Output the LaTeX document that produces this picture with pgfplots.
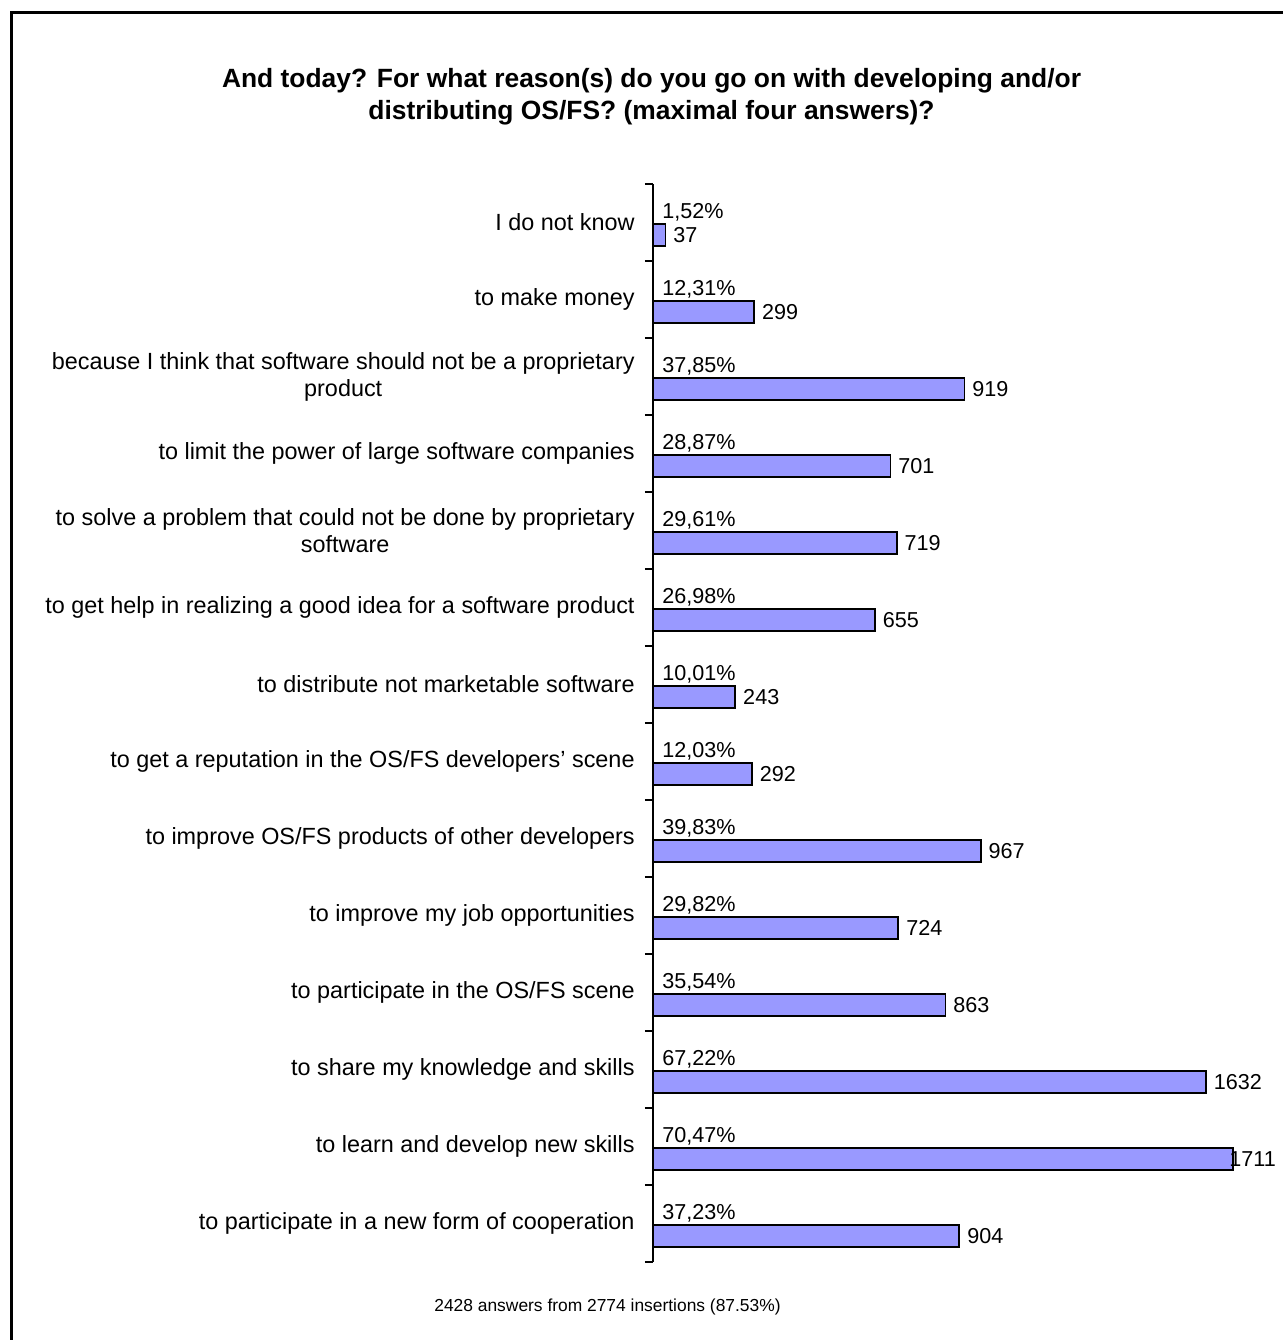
\documentclass[border=0pt]{standalone}
\usepackage{pgfplots}
\pgfplotsset{compat=1.18}
\usepackage{pgfplotstable}
\usepackage{fontspec}
\setmainfont{Liberation Sans}
\definecolor{barfill}{HTML}{9999FF}

% lshift: horizontal offset (pt) of the count label from the bar end
\pgfplotstableread{
y count pct zero lshift
13 37 1,52 0 3.5
12 299 12,31 0 3.5
11 919 37,85 0 3.5
10 701 28,87 0 3.5
9 719 29,61 0 3.5
8 655 26,98 0 3.5
7 243 10,01 0 3.5
6 292 12,03 0 3.5
5 967 39,83 0 3.5
4 724 29,82 0 3.5
3 863 35,54 0 3.5
2 1632 67,22 0 3.5
1 1711 70,47 0 -2.2
0 904 37,23 0 3.5
}\datatable

\begin{document}
\begin{tikzpicture}
\useasboundingbox (0pt,0pt) rectangle (641pt,-670pt);
\draw[line width=1.5pt] (5.75pt,-6.25pt) rectangle (700pt,-700pt);
\node[align=center, font=\bfseries\fontsize{13.2}{16}\selectfont] at (325.75pt,-48.5pt) {And today? For what reason(s) do you go on with developing and/or\\distributing OS/FS? (maximal four answers)?};
\node[font=\fontsize{8.7}{10}\selectfont] at (303.75pt,-653.5pt) {2428 answers from 2774 insertions (87.53\%)};
\begin{axis}[
  at={(326.5pt,-92pt)}, anchor=north west,
  scale only axis, width=305pt, height=539pt,
  xmin=0, xmax=1800, ymin=-0.5, ymax=13.5,
  axis x line=none, axis y line*=left,
  axis line style={black, line width=0.6pt},
  clip=false,
  ytick={0,...,13},
  yticklabels={
    {to participate in a new form of cooperation},
    {to learn and develop new skills},
    {to share my knowledge and skills},
    {to participate in the OS/FS scene},
    {to improve my job opportunities},
    {to improve OS/FS products of other developers},
    {to get a reputation in the OS/FS developers’ scene},
    {to distribute not marketable software},
    {to get help in realizing a good idea for a software product},
    {to solve a problem that could not be done by proprietary\\software},
    {to limit the power of large software companies},
    {because I think that software should not be a proprietary\\product},
    {to make money},
    {I do not know}},
  minor ytick={-0.5,0.5,...,13.5},
  major tick length=0pt, minor tick length=4pt,
  tick align=outside,
  tick style={black, line width=0.6pt},
  yticklabel style={font=\fontsize{11.7}{13.5}\selectfont, align=center, inner sep=0pt, xshift=-9pt},
]
\addplot[xbar, bar width=11pt, bar shift=-6.25pt, fill=barfill, draw=black, line width=0.9pt,
  point meta=explicit symbolic,
  visualization depends on={\thisrow{lshift} \as \lshift},
  nodes near coords={\pgfplotspointmeta},
  every node near coord/.append style={font=\fontsize{10.8}{12}\selectfont, black, anchor=west, inner sep=0pt, xshift=\lshift pt, yshift=-6.25pt}]
  table[x=count, y=y, meta=count] {\datatable};
\addplot[only marks, mark=*, mark size=0pt, mark options={draw=none, fill=none},
  point meta=explicit symbolic,
  nodes near coords={\pgfplotspointmeta\%},
  every node near coord/.append style={font=\fontsize{10.8}{12}\selectfont, black, anchor=base west, inner sep=0pt, xshift=4.5pt, yshift=2.25pt}]
  table[x=zero, y=y, meta=pct] {\datatable};
\end{axis}
\end{tikzpicture}
\end{document}
